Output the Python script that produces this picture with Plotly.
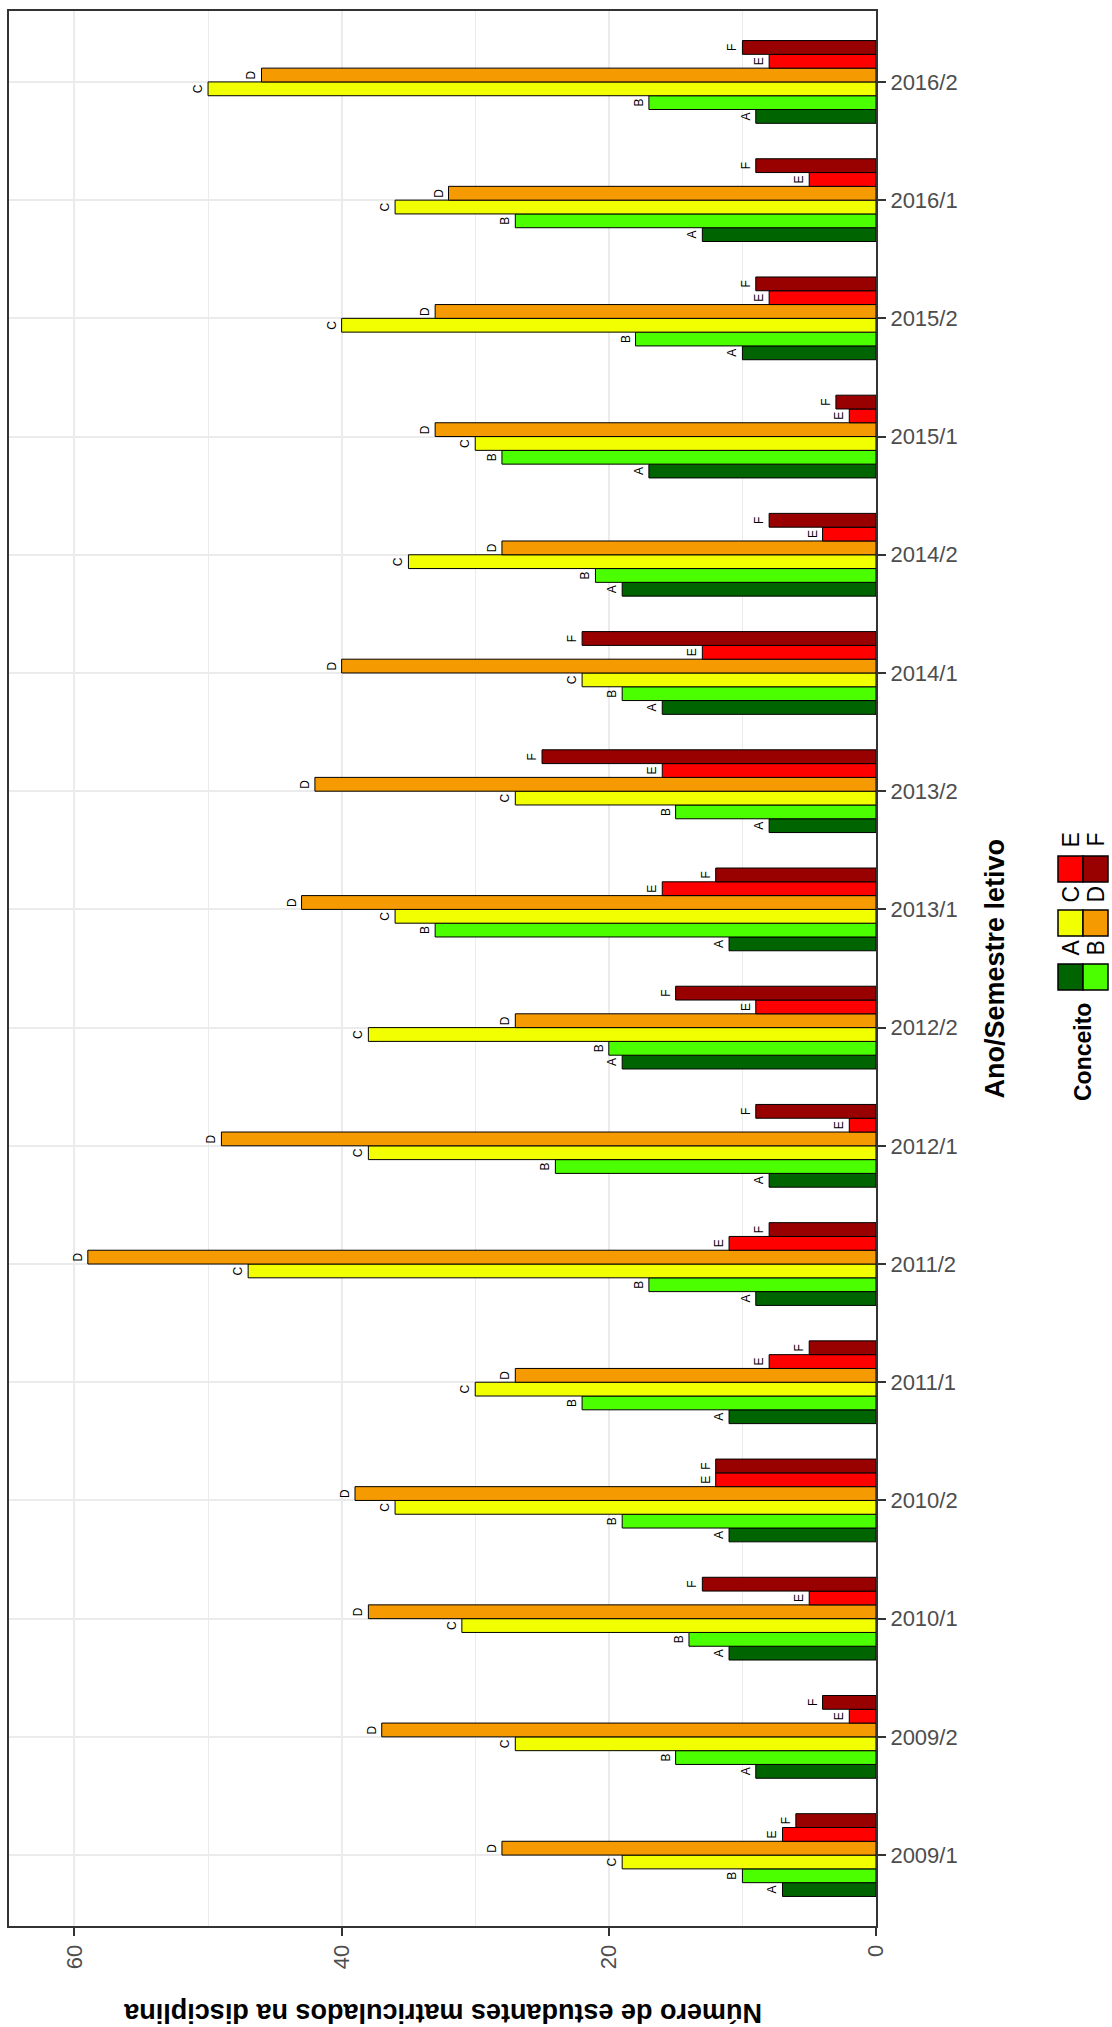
import plotly.graph_objects as go

semesters = ["2009/1", "2009/2", "2010/1", "2010/2", "2011/1", "2011/2", "2012/1", "2012/2",
             "2013/1", "2013/2", "2014/1", "2014/2", "2015/1", "2015/2", "2016/1", "2016/2"]
grades = ["A", "B", "C", "D", "E", "F"]
count_A = [7, 9, 11, 11, 11, 9, 8, 19, 11, 8, 16, 19, 17, 10, 13, 9]
count_B = [10, 15, 14, 19, 22, 17, 24, 20, 33, 15, 19, 21, 28, 18, 27, 17]
count_C = [19, 27, 31, 36, 30, 47, 38, 38, 36, 27, 22, 35, 30, 40, 36, 50]
count_D = [28, 37, 38, 39, 27, 59, 49, 27, 43, 42, 40, 28, 33, 33, 32, 46]
count_E = [7, 2, 5, 12, 8, 11, 2, 9, 16, 16, 13, 4, 2, 8, 5, 8]
count_F = [6, 4, 13, 12, 5, 8, 9, 15, 12, 25, 22, 8, 3, 9, 9, 10]
x_ticks = [0, 20, 40, 60]

counts = [count_A, count_B, count_C, count_D, count_E, count_F]
colors = ["#006400", "#4BFF00", "#F2FF00", "#F59A00", "#FF0000", "#990000"]

FONT = "Liberation Sans, Arial, sans-serif"
W_FIG, H_FIG = 1112, 2027
ML, MR, MT, MB = 9, 236, 11, 101
PW = W_FIG - ML - MR
PH = H_FIG - MT - MB


def xp(px):
    return (px - ML) / PW


def yp(py):
    return (H_FIG - MB - py) / PH


fig = go.Figure()
for g, vals, col in zip(grades, counts, colors):
    fig.add_trace(go.Bar(
        y=semesters, x=vals, name=g, orientation="h",
        marker=dict(color=col, line=dict(color="black", width=1)),
        text=[g] * len(vals), textposition="outside", textangle=-90,
        textfont=dict(family=FONT, size=12, color="black"),
        constraintext="none", cliponaxis=False, showlegend=False,
        hoverinfo="x+y+name",
    ))

axis_line = dict(showline=True, linecolor="#333333", linewidth=2, mirror=True)

fig.update_layout(
    width=W_FIG, height=H_FIG, autosize=False,
    margin=dict(l=ML, r=MR, t=MT, b=MB, pad=0),
    paper_bgcolor="white", plot_bgcolor="white",
    barmode="group", bargap=0.3, bargroupgap=0,
    font=dict(family=FONT),
    xaxis=dict(
        range=[64.9, 0], tickvals=x_ticks, ticktext=[str(v) for v in x_ticks],
        tickangle=-90, ticks="outside", ticklen=8, tickwidth=2, tickcolor="#333333",
        tickfont=dict(family=FONT, size=22, color="#4D4D4D"),
        showgrid=True, gridcolor="#EBEBEB", gridwidth=2, zeroline=False,
        minor=dict(dtick=10, tick0=0, showgrid=True, gridcolor="#EBEBEB", gridwidth=1, ticks=""),
        automargin=False,
        **axis_line,
    ),
    yaxis=dict(
        type="category", categoryorder="array", categoryarray=semesters,
        range=[-0.6, len(semesters) - 0.4], side="right",
        ticks="outside", ticklen=8, tickwidth=2, tickcolor="#333333",
        tickfont=dict(family=FONT, size=22, color="#4D4D4D"),
        showgrid=True, gridcolor="#EBEBEB", gridwidth=2, zeroline=False,
        automargin=False,
        **axis_line,
    ),
)

annotations = [
    dict(text="<b>Número de estudantes matriculados na disciplina</b>", textangle=180,
         xref="paper", yref="paper", x=0.5, y=yp(2013), showarrow=False,
         xanchor="center", yanchor="middle", font=dict(family=FONT, size=27, color="black")),
    dict(text="<b>Ano/Semestre letivo</b>", textangle=-90,
         xref="paper", yref="paper", x=xp(994), y=0.5, showarrow=False,
         xanchor="center", yanchor="middle", font=dict(family=FONT, size=27, color="black")),
    dict(text="<b>Conceito</b>", textangle=-90,
         xref="paper", yref="paper", x=xp(1083), y=yp(1052), showarrow=False,
         xanchor="center", yanchor="middle", font=dict(family=FONT, size=23, color="black")),
]

shapes = []
key_w, key_h = 25, 26
col_x = [1058, 1083]
row_top = [964, 910, 856]
for i, (g, col) in enumerate(zip(grades, colors)):
    row = i // 2
    c = i % 2
    x0 = col_x[c]
    y0 = row_top[row]
    shapes.append(dict(type="rect", xref="paper", yref="paper",
                       x0=xp(x0), x1=xp(x0 + key_w), y0=yp(y0 + key_h), y1=yp(y0),
                       fillcolor=col, line=dict(color="black", width=1.5), layer="above"))
    annotations.append(dict(text=g, textangle=-90, xref="paper", yref="paper",
                            x=xp(x0 + key_w / 2), y=yp(y0 - 16), showarrow=False,
                            xanchor="center", yanchor="middle",
                            font=dict(family=FONT, size=23, color="black")))

fig.update_layout(annotations=annotations, shapes=shapes)

fig.write_html(
    "out.html",
    config={"displayModeBar": False},
    post_script="document.body.style.margin='0';document.body.style.overflow='hidden';",
)
